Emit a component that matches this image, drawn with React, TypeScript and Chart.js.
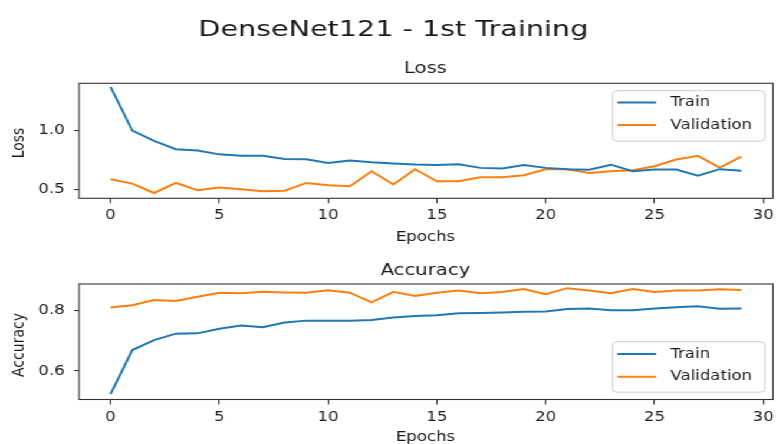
import React, { useEffect, useRef } from 'react';
import { Chart, registerables } from 'chart.js';

Chart.register(...registerables);

// ---------------- data ----------------
const epochs = [0, 1, 2, 3, 4, 5, 6, 7, 8, 9, 10, 11, 12, 13, 14, 15, 16, 17, 18, 19, 20, 21, 22, 23, 24, 25, 26, 27, 28, 29];
const trainLoss = [1.367, 0.997, 0.91, 0.84, 0.83, 0.797, 0.785, 0.785, 0.757, 0.755, 0.725, 0.745, 0.73, 0.72, 0.712, 0.708, 0.713, 0.683, 0.677, 0.708, 0.683, 0.672, 0.667, 0.71, 0.655, 0.669, 0.669, 0.618, 0.672, 0.658];
const valLoss = [0.587, 0.55, 0.471, 0.556, 0.494, 0.517, 0.503, 0.486, 0.491, 0.556, 0.536, 0.528, 0.655, 0.542, 0.672, 0.57, 0.57, 0.604, 0.604, 0.621, 0.672, 0.672, 0.64, 0.655, 0.663, 0.697, 0.754, 0.785, 0.686, 0.777];
const trainAcc = [0.524, 0.669, 0.702, 0.723, 0.724, 0.739, 0.75, 0.744, 0.76, 0.766, 0.766, 0.766, 0.768, 0.776, 0.781, 0.784, 0.79, 0.791, 0.793, 0.795, 0.796, 0.804, 0.806, 0.8, 0.8, 0.806, 0.81, 0.813, 0.805, 0.806];
const valAcc = [0.809, 0.817, 0.834, 0.831, 0.845, 0.858, 0.856, 0.861, 0.859, 0.858, 0.866, 0.858, 0.826, 0.861, 0.847, 0.858, 0.865, 0.856, 0.86, 0.87, 0.853, 0.873, 0.865, 0.856, 0.87, 0.86, 0.865, 0.865, 0.869, 0.867];
const xTicks = [0, 5, 10, 15, 20, 25, 30];
const lossTicks = [0.5, 1.0];
const accTicks = [0.6, 0.8];
const seriesNames = ['Train', 'Validation'];
const FIG_TITLE = 'DenseNet121 - 1st Training';
const X_LABEL = 'Epochs';

// ---------------- style ----------------
const BLUE = '#1f77b4';
const ORANGE = '#ff7f0e';
const INK = '#1a1a1a';
const SPINE = '#333333';
const FONT = '"DejaVu Sans", sans-serif';
const W = 658; // logical width, stretched to 776
const SX = 776 / W;

type Panel = {
  canvasTop: number;
  canvasH: number;
  areaTop: number;
  areaBottom: number;
  yMin: number;
  yMax: number;
  yTicks: number[];
  train: number[];
  val: number[];
  title: string;
  titleY: number;
  yLabel: string;
  yLabelY: number;
  xLabelY: number;
  legendTop: number;
  legendRows: number[];
  suptitle?: boolean;
};

const panels: Panel[] = [
  {
    canvasTop: 0, canvasH: 250, areaTop: 83.3, areaBottom: 198.3,
    yMin: 0.4263, yMax: 1.3966, yTicks: lossTicks, train: trainLoss, val: valLoss,
    title: 'Loss', titleY: 73, yLabel: 'Loss', yLabelY: 143, xLabelY: 240.5,
    legendTop: 90.7, legendRows: [102.5, 125], suptitle: true,
  },
  {
    canvasTop: 250, canvasH: 194, areaTop: 34, areaBottom: 149.5,
    yMin: 0.5061, yMax: 0.8867, yTicks: accTicks, train: trainAcc, val: valAcc,
    title: 'Accuracy', titleY: 25, yLabel: 'Accuracy', yLabelY: 95, xLabelY: 190.5,
    legendTop: 91.7, legendRows: [104, 126.7],
  },
];

function text(ctx: CanvasRenderingContext2D, s: string, x: number, y: number, size: number,
  opt: { align?: CanvasTextAlign; baseline?: CanvasTextBaseline; rot?: number; width?: number } = {}) {
  ctx.save();
  ctx.translate(x, y);
  if (opt.rot) ctx.rotate(opt.rot);
  ctx.font = `${size}px ${FONT}`;
  if (opt.width) {
    const w = ctx.measureText(s).width;
    ctx.scale(opt.width / w, 1);
  }
  ctx.textAlign = opt.align || 'center';
  ctx.textBaseline = opt.baseline || 'alphabetic';
  ctx.fillStyle = INK;
  ctx.fillText(s, 0, 0);
  ctx.restore();
}

function makeChart(canvas: HTMLCanvasElement, p: Panel) {
  const decor = {
    id: 'decor' + p.title,
    afterDraw(chart: any) {
      const ctx: CanvasRenderingContext2D = chart.ctx;
      const a = chart.chartArea;
      // spines
      ctx.save();
      ctx.strokeStyle = SPINE;
      ctx.lineWidth = 1.1;
      ctx.strokeRect(a.left, a.top, a.right - a.left, a.bottom - a.top);
      ctx.restore();
      const cx = (a.left + a.right) / 2 - 0.5;
      if (p.suptitle) text(ctx, FIG_TITLE, 333.5, 35.5, 22, { width: 330.6 });
      text(ctx, p.title, cx, p.titleY, 16.7);
      text(ctx, X_LABEL, cx, p.xLabelY, 14);
      text(ctx, p.yLabel, 16.3, p.yLabelY, 14, { rot: -Math.PI / 2, baseline: 'middle' });
      // legend
      const lx0 = 519.5, lx1 = 648.7;
      const ly0 = p.legendTop, ly1 = p.legendTop + 50.5;
      ctx.save();
      ctx.beginPath();
      (ctx as any).roundRect(lx0, ly0, lx1 - lx0, ly1 - ly0, 3.5);
      ctx.fillStyle = 'rgba(255,255,255,0.8)';
      ctx.fill();
      ctx.strokeStyle = '#cccccc';
      ctx.lineWidth = 1;
      ctx.stroke();
      const colors = [BLUE, ORANGE];
      seriesNames.forEach((name, i) => {
        const y = p.legendRows[i];
        ctx.beginPath();
        ctx.moveTo(523.4, y);
        ctx.lineTo(556.3, y);
        ctx.strokeStyle = colors[i];
        ctx.lineWidth = 2;
        ctx.stroke();
        text(ctx, name, 568.6, y, 14, { align: 'left', baseline: 'middle' });
      });
      ctx.restore();
    },
  };

  const xAxisH = p.canvasH - p.areaBottom;
  return new Chart(canvas, {
    type: 'line',
    data: {
      datasets: [
        { label: seriesNames[0], data: epochs.map((e, i) => ({ x: e, y: p.train[i] })), borderColor: BLUE, backgroundColor: BLUE, borderWidth: 2, pointRadius: 0, tension: 0 },
        { label: seriesNames[1], data: epochs.map((e, i) => ({ x: e, y: p.val[i] })), borderColor: ORANGE, backgroundColor: ORANGE, borderWidth: 2, pointRadius: 0, tension: 0 },
      ],
    },
    options: {
      responsive: false,
      animation: false,
      devicePixelRatio: 1,
      events: [],
      layout: { padding: { top: p.areaTop, left: 0, right: W - 773 / SX, bottom: 0 } },
      plugins: { legend: { display: false }, title: { display: false }, tooltip: { enabled: false } },
      scales: {
        x: {
          type: 'linear',
          min: -1.45,
          max: 30.45,
          afterBuildTicks: (s: any) => { s.ticks = xTicks.map((v) => ({ value: v })); },
          afterFit: (s: any) => { s.height = xAxisH; s.paddingLeft = 0; s.paddingRight = 0; },
          ticks: { font: { family: FONT, size: 14 }, color: INK, padding: 4, maxRotation: 0, autoSkip: false, callback: (v: any) => String(v) },
          grid: { drawOnChartArea: false, drawTicks: true, tickLength: 5, color: SPINE, lineWidth: 1.1 },
          border: { display: false },
        },
        y: {
          type: 'linear',
          min: p.yMin,
          max: p.yMax,
          afterBuildTicks: (s: any) => { s.ticks = p.yTicks.map((v) => ({ value: v })); },
          afterFit: (s: any) => { s.width = 67; s.paddingTop = 0; s.paddingBottom = 0; },
          ticks: { font: { family: FONT, size: 14 }, color: INK, padding: 8, autoSkip: false, callback: (v: any) => Number(v).toFixed(1) },
          grid: { drawOnChartArea: false, drawTicks: true, tickLength: 4.2, color: SPINE, lineWidth: 1.1 },
          border: { display: false },
        },
      },
    },
    plugins: [decor],
  } as any);
}

export default function App() {
  const refs = [useRef<HTMLCanvasElement>(null), useRef<HTMLCanvasElement>(null)];
  useEffect(() => {
    const charts = panels.map((p, i) => makeChart(refs[i].current as HTMLCanvasElement, p));
    return () => charts.forEach((c) => c.destroy());
  }, []);
  return (
    <div style={{ position: 'fixed', left: 0, top: 0, width: W, height: 444, transform: `scaleX(${SX})`, transformOrigin: '0 0', background: '#fff', overflow: 'hidden' }}>
      {panels.map((p, i) => (
        <canvas key={i} ref={refs[i]} width={W} height={p.canvasH}
          style={{ position: 'absolute', left: 0, top: p.canvasTop, width: W, height: p.canvasH }} />
      ))}
    </div>
  );
}
